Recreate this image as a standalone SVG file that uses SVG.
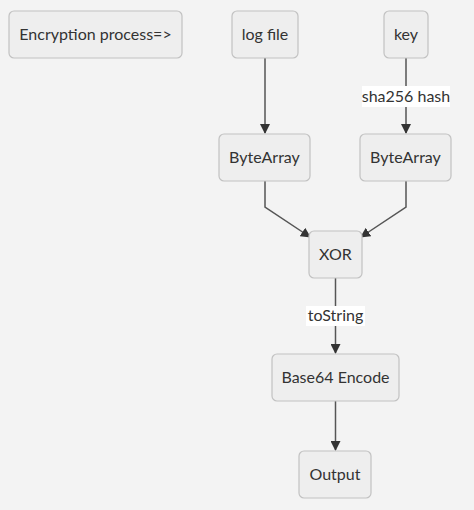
<svg xmlns="http://www.w3.org/2000/svg" width="474" height="510" viewBox="0 0 474 510">
<style>
.node rect{fill:#eeeeee;stroke:#c2c2c2;stroke-width:1.2}
.node text,.lbl text{font-family:Lato,"Open Sans",sans-serif;font-size:16px;fill:#333333;text-anchor:middle}
.edge{fill:none;stroke:#555555;stroke-width:1.5}
.lbl rect{fill:#ffffff}
</style>
<defs>
<marker id="arr" markerWidth="10" markerHeight="10" refX="9" refY="5" orient="auto" markerUnits="userSpaceOnUse">
<path d="M0,0 L10,5 L0,10 z" fill="#333333"/>
</marker>
</defs>
<rect width="474" height="510" fill="#f3f3f3"/>
<g id="connectors">
<path class="edge" d="M265,58 V133" marker-end="url(#arr)"/>
<path class="edge" d="M406,58 V133" marker-end="url(#arr)"/>
<path class="edge" d="M265,181 V207 L310,237" marker-end="url(#arr)"/>
<path class="edge" d="M406,181 V207 L361,237" marker-end="url(#arr)"/>
<path class="edge" d="M335.5,278 V353" marker-end="url(#arr)"/>
<path class="edge" d="M335.5,401 V450" marker-end="url(#arr)"/>
<g class="lbl"><rect x="362" y="86" width="88" height="21"/><text x="406" y="102">sha256 hash</text></g>
<g class="lbl"><rect x="306" y="306" width="59" height="20"/><text x="335.5" y="321">toString</text></g>
</g>
<g id="n-enc" class="node"><rect x="9" y="11" width="173" height="47" rx="5"/><text x="95.5" y="40">Encryption process=&gt;</text></g>
<g id="n-log" class="node"><rect x="232" y="11" width="66" height="47" rx="5"/><text x="265" y="40">log file</text></g>
<g id="n-key" class="node"><rect x="384" y="11" width="44" height="47" rx="5"/><text x="406" y="40">key</text></g>
<g id="n-ba1" class="node"><rect x="219" y="134" width="91" height="47" rx="5"/><text x="264.5" y="163">ByteArray</text></g>
<g id="n-ba2" class="node"><rect x="360" y="134" width="91" height="47" rx="5"/><text x="405.5" y="163">ByteArray</text></g>
<g id="n-xor" class="node"><rect x="309" y="231" width="53" height="47" rx="5"/><text x="335.5" y="260">XOR</text></g>
<g id="n-b64" class="node"><rect x="272" y="354" width="127" height="47" rx="5"/><text x="335.5" y="383">Base64 Encode</text></g>
<g id="n-out" class="node"><rect x="299" y="451" width="72" height="47" rx="5"/><text x="335" y="480">Output</text></g>
</svg>
